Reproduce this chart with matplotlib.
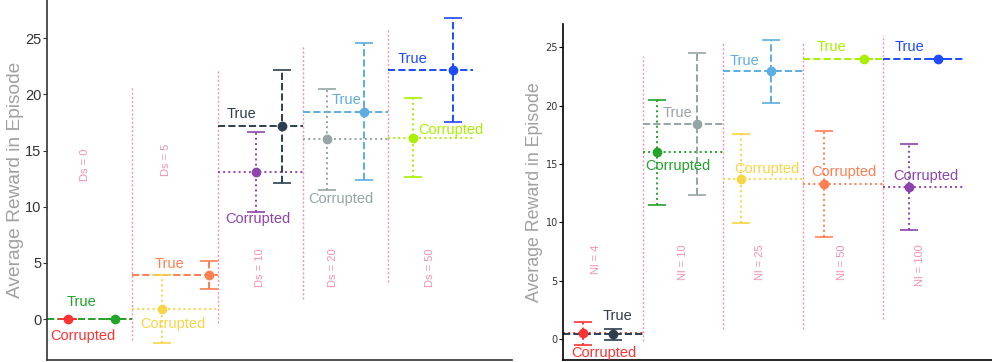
import matplotlib
matplotlib.use("Agg")
import matplotlib.pyplot as plt

# ---- left panel: sweep over Ds ----
ds_groups = ["Ds = 0", "Ds = 5", "Ds = 10", "Ds = 20", "Ds = 50"]
ds_corr_mean = [0.0, 0.9, 13.1, 16.0, 16.15]
ds_corr_err = [0.0, 3.05, 3.55, 4.5, 3.55]
ds_true_mean = [0.0, 3.95, 17.15, 18.45, 22.15]
ds_true_err = [0.0, 1.25, 5.05, 6.1, 4.65]
ds_corr_colors = ["#FF3333", "#F9D447", "#8E44AD", "#95A5A6", "#A8F000"]
ds_true_colors = ["#22A32A", "#FF7F50", "#2C3E50", "#5DADE2", "#1E4BFF"]

# ---- right panel: sweep over Nl ----
nl_groups = ["Nl = 4", "Nl = 10", "Nl = 25", "Nl = 50", "Nl = 100"]
nl_corr_mean = [0.48, 16.0, 13.75, 13.3, 13.05]
nl_corr_err = [1.0, 4.5, 3.8, 4.55, 3.7]
nl_true_mean = [0.4, 18.42, 22.94, 24.0, 24.0]
nl_true_err = [0.5, 6.1, 2.7, 0.0, 0.0]
nl_corr_colors = ["#FF3333", "#22A32A", "#F9D447", "#FF7F50", "#8E44AD"]
nl_true_colors = ["#2C3E50", "#95A5A6", "#5DADE2", "#A8F000", "#1E4BFF"]

PINK = "#F48FB6"

layout_left = dict(
    xlim=(0, 5.45), ylim=(-3.65, 28.4),
    corr_x=[0.25, 0.35, 0.45, 0.28, 0.29],
    true_x=[0.80, 0.90, 0.75, 0.72, 0.76],
    corr_lbl=[(0.42, -1.5), (1.48, -0.4), (2.47, 8.9), (3.45, 10.7), (4.74, 16.8)],
    true_lbl=[(0.41, 1.5), (1.44, 4.9), (2.28, 18.25), (3.51, 19.5), (4.29, 23.15)],
    grp_lbl=[(0.445, 15.2), (1.39, 15.65), (2.50, 6.3), (3.35, 6.3), (4.49, 6.3)],
    sep=[(-1.9, 20.75), (-0.35, 22.2), (1.8, 24.4), (3.3, 25.9)],
    ylabel_x=-0.05,
)
layout_right = dict(
    xlim=(0, 5.36), ylim=(-1.8, 27.0),
    corr_x=[0.24, 0.17, 0.22, 0.26, 0.32],
    true_x=[0.625, 0.67, 0.59, 0.76, 0.69],
    corr_lbl=[(0.50, -1.23), (1.43, 14.8), (2.55, 14.6), (3.51, 14.36), (4.53, 13.97)],
    true_lbl=[(0.68, 1.97), (1.43, 19.4), (2.27, 23.8), (3.35, 25.0), (4.33, 25.0)],
    grp_lbl=[(0.41, 8.1), (1.50, 8.1), (2.46, 8.1), (3.48, 8.1), (4.46, 8.1)],
    sep=[(-0.2, 24.3), (0.9, 25.5), (0.9, 25.4), (1.7, 26.1)],
    ylabel_x=-0.048,
)

FONT = "Liberation Sans"


def draw_series(ax, i, x, mean, err, color, ls, lw=1.4):
    ax.hlines(mean, i, i + 1, colors=color, linestyles=ls, linewidth=lw, zorder=2)
    _, _, bars = ax.errorbar(x, mean, yerr=err, fmt="o", color=color, markersize=6,
                             capsize=6.5, elinewidth=lw, capthick=1.2, zorder=3)
    for b in bars:
        b.set_linestyle(ls)


def draw_panel(ax, groups, c_mean, c_err, t_mean, t_err, c_cols, t_cols, lay,
               label_size, tick_font, tick_size, spine_color):
    for i, (lo, hi) in enumerate(lay["sep"]):
        ax.vlines(i + 1, lo, hi, colors=PINK, linestyles=(0, (1.5, 1.5)), linewidth=1, zorder=1)

    for i in range(len(groups)):
        draw_series(ax, i, i + lay["corr_x"][i], c_mean[i], c_err[i], c_cols[i], ":")
        draw_series(ax, i, i + lay["true_x"][i], t_mean[i], t_err[i], t_cols[i], "--")
        tx, ty = lay["true_lbl"][i]
        ax.text(tx, ty, "True", color=t_cols[i], fontsize=10.5, family=FONT,
                ha="center", va="center", zorder=4)
        cx, cy = lay["corr_lbl"][i]
        ax.text(cx, cy, "Corrupted", color=c_cols[i], fontsize=10.5, family=FONT,
                ha="center", va="center", zorder=4)
        gx, gy = lay["grp_lbl"][i]
        ax.text(gx, gy, groups[i], color=PINK, fontsize=8, family=FONT,
                rotation=90, ha="center", va="top")

    ax.set_xlim(*lay["xlim"])
    ax.set_ylim(*lay["ylim"])
    ax.set_xticks([])
    ax.set_yticks([0, 5, 10, 15, 20, 25])
    for lbl in ax.get_yticklabels():
        lbl.set_family(tick_font)
    ax.tick_params(axis="y", labelsize=tick_size, length=3, width=0.8,
                   color=spine_color, labelcolor="#333333", pad=1)
    ax.set_ylabel("Average Reward in Episode", fontsize=label_size, color="#A0A0A0",
                  family=FONT)
    ax.yaxis.set_label_coords(lay["ylabel_x"], 0.5)
    for side in ["top", "right"]:
        ax.spines[side].set_visible(False)
    for side in ["left", "bottom"]:
        ax.spines[side].set_color(spine_color)
        ax.spines[side].set_linewidth(1.2)


fig = plt.figure(figsize=(9.92, 3.62), dpi=100)
ax1 = fig.add_axes([0.0474, 0.0055, 0.4686, 0.9945])
ax2 = fig.add_axes([0.568, 0.0055, 0.432, 0.928])

draw_panel(ax1, ds_groups, ds_corr_mean, ds_corr_err, ds_true_mean, ds_true_err,
           ds_corr_colors, ds_true_colors, layout_left,
           label_size=13.8, tick_font=FONT, tick_size=10.5, spine_color="#333333")
draw_panel(ax2, nl_groups, nl_corr_mean, nl_corr_err, nl_true_mean, nl_true_err,
           nl_corr_colors, nl_true_colors, layout_right,
           label_size=12.8, tick_font="DejaVu Sans", tick_size=7, spine_color="black")

fig.savefig("out.png", dpi=100)
plt.close(fig)
